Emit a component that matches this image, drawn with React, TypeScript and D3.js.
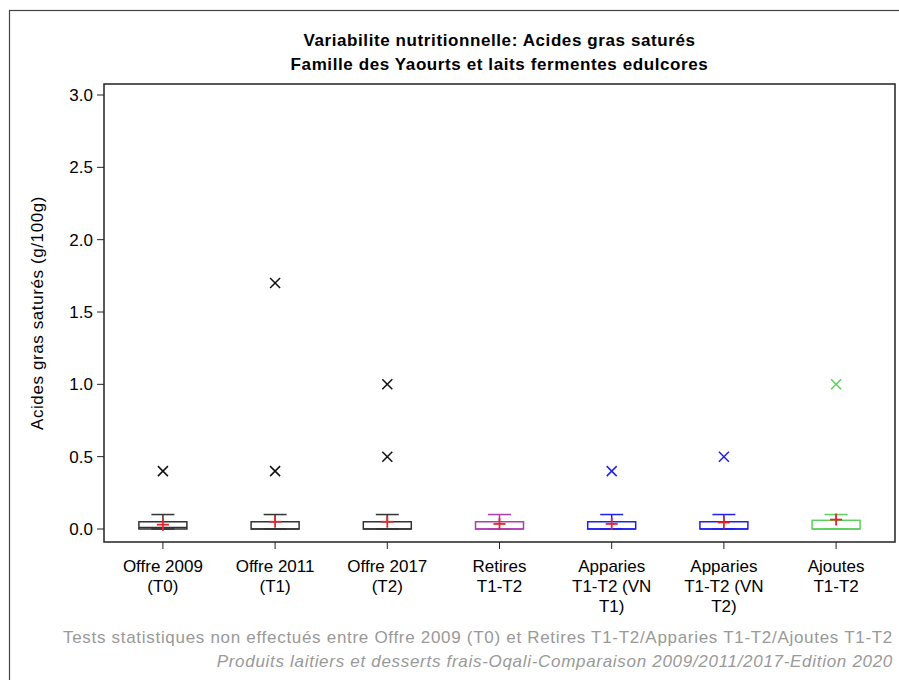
import React from "react";
import * as d3 from "d3";

const categories = ["Offre 2009 (T0)", "Offre 2011 (T1)", "Offre 2017 (T2)", "Retires T1-T2", "Apparies T1-T2 (VN T1)", "Apparies T1-T2 (VN T2)", "Ajoutes T1-T2"];
const categoryLines = [["Offre 2009", "(T0)"], ["Offre 2011", "(T1)"], ["Offre 2017", "(T2)"], ["Retires", "T1-T2"], ["Apparies", "T1-T2 (VN", "T1)"], ["Apparies", "T1-T2 (VN", "T2)"], ["Ajoutes", "T1-T2"]];
const whiskerLow = [0, 0, 0, 0, 0, 0, 0];
const q1 = [0, 0, 0, 0, 0, 0, 0];
const median = [0.01, 0, 0, 0, 0, 0, 0];
const q3 = [0.05, 0.05, 0.05, 0.05, 0.05, 0.05, 0.06];
const whiskerHigh = [0.1, 0.1, 0.1, 0.1, 0.1, 0.1, 0.1];
const means = [0.03, 0.05, 0.05, 0.035, 0.035, 0.045, 0.065];
const outliers = [[0.4], [1.7, 0.4], [1.0, 0.5], [], [0.4], [0.5], [1.0]];
const colors = ["#333333", "#333333", "#333333", "#b03cb0", "#2020f0", "#2020f0", "#5ccf5c"];
const yTicks = [0, 0.5, 1.0, 1.5, 2.0, 2.5, 3.0];

const title1 = "Variabilite nutritionnelle: Acides gras saturés";
const title2 = "Famille des Yaourts et laits fermentes edulcores";
const yLabel = "Acides gras saturés (g/100g)";
const foot1 = "Tests statistiques non effectués entre Offre 2009 (T0) et Retires T1-T2/Apparies T1-T2/Ajoutes T1-T2";
const foot2 = "Produits laitiers et desserts frais-Oqali-Comparaison 2009/2011/2017-Edition 2020";

export default function App() {
  const W = 899, H = 680;
  const left = 104, right = 895, top = 84, bottom = 542;
  const x = d3.scalePoint<string>().domain(categories).range([left, right]).padding(0.525);
  const y = d3.scaleLinear().domain([0, 3]).range([529, 95]);
  const boxW = 48, capW = 23;
  const font = "'Liberation Sans', Arial, sans-serif";

  return (
    <svg width={W} height={H} style={{ position: "absolute", left: 0, top: 0, background: "#fff" }} fontFamily={font}>
      <rect x={9.5} y={10.5} width={W} height={H} fill="none" stroke="#444" strokeWidth={1.2} />
      <text x={(left + right) / 2} y={46} textAnchor="middle" fontSize={17} letterSpacing={0.6} fontWeight="bold" fill="#000">{title1}</text>
      <text x={(left + right) / 2} y={70} textAnchor="middle" fontSize={17} letterSpacing={0.6} fontWeight="bold" fill="#000">{title2}</text>
      <rect x={left} y={top} width={right - left} height={bottom - top} fill="none" stroke="#222" strokeWidth={1.5} />
      {yTicks.map((t) => (
        <g key={t}>
          <line x1={left - 7} x2={left} y1={y(t)} y2={y(t)} stroke="#222" />
          <text x={left - 11} y={y(t) + 6} textAnchor="end" fontSize={17} fill="#000">{t.toFixed(1)}</text>
        </g>
      ))}
      <text transform={`translate(43,${(top + bottom) / 2}) rotate(-90)`} textAnchor="middle" fontSize={17} letterSpacing={0.6} fill="#000">{yLabel}</text>
      {categories.map((c, i) => {
        const cx = x(c)!;
        const col = colors[i];
        return (
          <g key={c}>
            <line x1={cx} x2={cx} y1={bottom} y2={bottom + 7} stroke="#222" />
            {categoryLines[i].map((l, j) => (
              <text key={j} x={cx} y={572 + j * 20} textAnchor="middle" fontSize={17} fill="#000">{l}</text>
            ))}
            <line x1={cx} x2={cx} y1={y(whiskerHigh[i])} y2={y(q3[i])} stroke={col} strokeWidth={1.5} />
            <line x1={cx} x2={cx} y1={y(q1[i])} y2={y(whiskerLow[i])} stroke={col} strokeWidth={1.5} />
            <line x1={cx - capW / 2} x2={cx + capW / 2} y1={y(whiskerHigh[i])} y2={y(whiskerHigh[i])} stroke={col} strokeWidth={1.5} />
            <line x1={cx - capW / 2} x2={cx + capW / 2} y1={y(whiskerLow[i])} y2={y(whiskerLow[i])} stroke={col} strokeWidth={1.5} />
            <rect x={cx - boxW / 2} y={y(q3[i])} width={boxW} height={y(q1[i]) - y(q3[i])} fill="none" stroke={col} strokeWidth={1.5} />
            <line x1={cx - boxW / 2} x2={cx + boxW / 2} y1={y(median[i])} y2={y(median[i])} stroke={col} strokeWidth={1.5} />
            <g stroke="#e8262a" strokeWidth={1.8}>
              <line x1={cx - 6} x2={cx + 6} y1={y(means[i])} y2={y(means[i])} />
              <line x1={cx} x2={cx} y1={y(means[i]) - 6} y2={y(means[i]) + 6} />
            </g>
            {outliers[i].map((o, k) => (
              <g key={k} stroke={col === "#333333" ? "#111" : col} strokeWidth={1.5}>
                <line x1={cx - 5} x2={cx + 5} y1={y(o) - 5} y2={y(o) + 5} />
                <line x1={cx - 5} x2={cx + 5} y1={y(o) + 5} y2={y(o) - 5} />
              </g>
            ))}
          </g>
        );
      })}
      <text x={893} y={643} textAnchor="end" fontSize={17} letterSpacing={0.7} fill="#999">{foot1}</text>
      <text x={893} y={667} textAnchor="end" fontSize={17} letterSpacing={0.7} fontStyle="italic" fill="#999">{foot2}</text>
    </svg>
  );
}
